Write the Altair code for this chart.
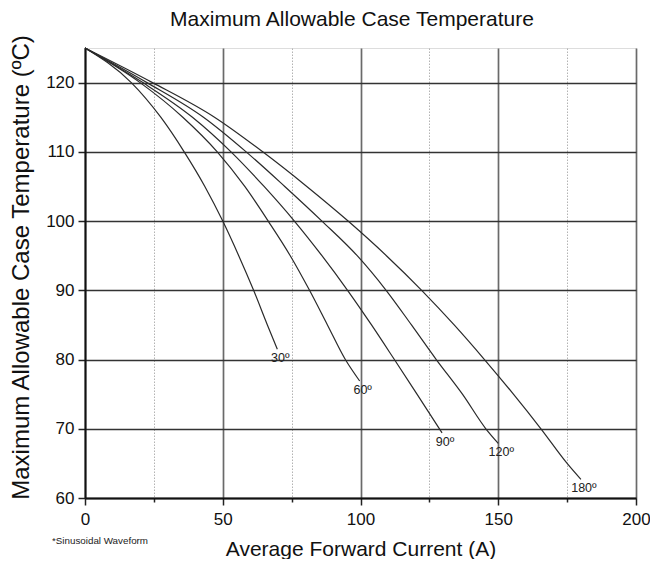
import altair as alt
import pandas as pd

# Curves: (current A, case temperature C)
series_names = ["30º", "60º", "90º", "120º", "180º"]
i_30 = [0, 16.8, 27.5, 36, 43.5, 50, 55.8, 61.2, 66.2, 69.8]
t_30 = [125, 120, 115, 110, 105, 100, 95, 90, 85, 81.5]
i_60 = [0, 20, 35.5, 48, 58, 66.5, 74.5, 81.5, 88, 94.5, 99.7]
t_60 = [125, 120, 115, 110, 105, 100, 95, 90, 85, 80, 76.9]
i_90 = [0, 21, 39, 53, 65, 76, 86, 95.3, 104, 112.3, 120.5, 129.6]
t_90 = [125, 120, 115, 110, 105, 100, 95, 90, 85, 80, 75, 69.4]
i_120 = [0, 22.5, 43, 58.5, 72.5, 86, 98.8, 109.3, 118.5, 127.5, 137, 145.5, 150]
t_120 = [125, 120, 115, 110, 105, 100, 95, 90, 85, 80, 75, 70, 67.9]
i_180 = [0, 24.5, 47, 64.5, 80.5, 95.5, 109.4, 122.2, 134, 145, 155.5, 165.5, 175, 180]
t_180 = [125, 120, 115, 110, 105, 100, 95, 90, 85, 80, 75, 70, 65, 62.7]

x_ticks = [0, 25, 50, 75, 100, 125, 150, 175, 200]
y_ticks = [60, 65, 70, 75, 80, 85, 90, 95, 100, 105, 110, 115, 120, 125]

title_text = "Maximum Allowable Case Temperature"
note_text = "*Sinusoidal Waveform"

rows = []
for name, xs, ys in zip(series_names, [i_30, i_60, i_90, i_120, i_180],
                        [t_30, t_60, t_90, t_120, t_180]):
    for k, (a, b) in enumerate(zip(xs, ys)):
        rows.append({"series": name, "I": a, "T": b, "order": k})
df = pd.DataFrame(rows)
ends = df.sort_values("order").groupby("series", as_index=False).last()

FONT = "Liberation Sans"
W, H = 551, 450

xscale = alt.Scale(domain=[0, 200], nice=False, zero=False)
yscale = alt.Scale(domain=[60, 125], nice=False, zero=False)

xaxis = alt.Axis(
    values=x_ticks,
    labelExpr="datum.value % 50 === 0 ? datum.label : ''",
    labelFlush=False, labelOverlap=False,
    title="Average Forward Current (A)",
    titleFontSize=21, titleFont=FONT, titleFontWeight="normal", titleColor="#111",
    titlePadding=11,
    labelFontSize=17, labelFont=FONT, labelColor="#111", labelPadding=6,
    tickSize=alt.condition("datum.value % 50 === 0", alt.value(7), alt.value(4)),
    tickColor="#222", tickWidth=1.5,
    domainColor="#111", domainWidth=2,
    grid=True,
    gridColor=alt.condition("datum.value % 50 === 0", alt.value("#6a6a6a"), alt.value("#aaa")),
    gridDash=alt.condition("datum.value % 50 === 0", alt.value([]), alt.value([1.5, 1.5])),
    gridWidth=alt.condition("datum.value % 50 === 0", alt.value(1.7), alt.value(0.9)),
)
yaxis = alt.Axis(
    values=y_ticks,
    labelExpr="datum.value % 10 === 0 ? datum.label : ''",
    labelFlush=False, labelOverlap=False,
    title="Maximum Allowable Case Temperature (ºC)",
    titleFontSize=24, titleFont=FONT, titleFontWeight="normal", titleColor="#111",
    titlePadding=12, titleY=219,
    labelFontSize=17, labelFont=FONT, labelColor="#111", labelPadding=4,
    tickSize=alt.condition("datum.value % 10 === 0", alt.value(7), alt.value(4)),
    tickColor="#222", tickWidth=1.5,
    domainColor="#111", domainWidth=2,
    grid=True,
    gridColor=alt.condition("datum.value % 10 === 0", alt.value("#333"), alt.value("#aaa")),
    gridDash=alt.condition("datum.value % 10 === 0", alt.value([]), alt.value([1.5, 1.5])),
    gridWidth=alt.condition("datum.value % 10 === 0", alt.value(1.4), alt.value(0.9)),
)

lines = alt.Chart(df).mark_line(color="#2a2a2a", strokeWidth=1.2, interpolate="monotone").encode(
    x=alt.X("I:Q", scale=xscale, axis=xaxis),
    y=alt.Y("T:Q", scale=yscale, axis=yaxis),
    detail="series:N",
    order="order:Q",
)

labels = alt.Chart(ends).mark_text(
    font=FONT, fontSize=12.5, color="#222", align="center", baseline="middle", dx=3, dy=9
).encode(
    x=alt.X("I:Q", scale=xscale),
    y=alt.Y("T:Q", scale=yscale),
    text="series:N",
)

note = alt.Chart(pd.DataFrame({"t": [note_text]})).mark_text(
    font=FONT, fontSize=9.8, color="#222", align="left", baseline="middle"
).encode(
    x=alt.value(-33), y=alt.value(493), text="t:N"
)

title = alt.Chart(pd.DataFrame({"t": [title_text]})).mark_text(
    font=FONT, fontSize=21, color="#111", align="center", baseline="middle"
).encode(
    x=alt.value(267), y=alt.value(-28), text="t:N"
)

chart = alt.layer(lines, labels, note, title).properties(
    width=W, height=H,
    autosize="none",
    padding={"left": 77, "top": 40, "right": 14, "bottom": 61},
).configure_view(stroke="#222", strokeWidth=1.6).configure(background="white")

chart.save("out.html", embed_options={"renderer": "svg", "actions": False})
